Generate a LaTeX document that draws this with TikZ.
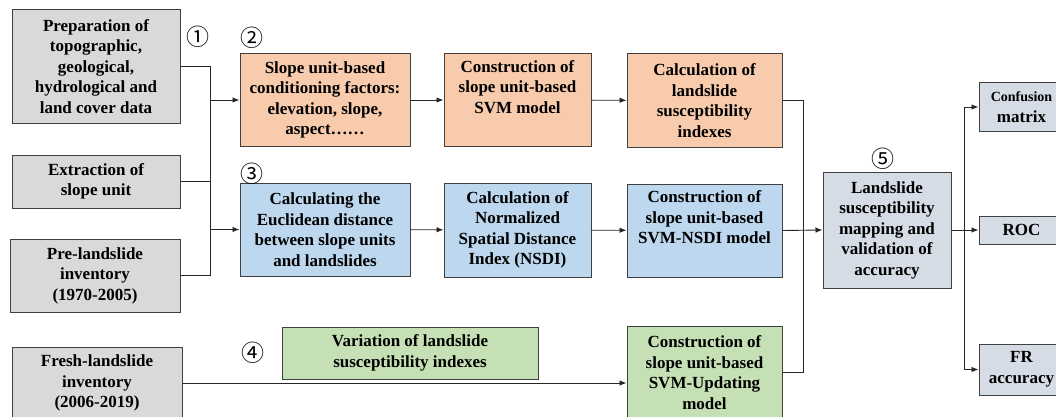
\documentclass[tikz,border=0pt]{standalone}
\usepackage{fontspec}
\setmainfont{LiberationSerif}[Extension=.ttf, UprightFont=*-Regular, BoldFont=*-Bold, ItalicFont=*-Italic, BoldItalicFont=*-BoldItalic]
\newfontfamily\circfont{Noto Sans CJK SC}
\usetikzlibrary{arrows.meta}
\definecolor{bxgray}{HTML}{D9D9D9}
\definecolor{bxorange}{HTML}{F8CBAD}
\definecolor{bxblue}{HTML}{BDD7EE}
\definecolor{bxgreen}{HTML}{C5E0B4}
\definecolor{bxslate}{HTML}{D6DCE5}
\definecolor{bxline}{HTML}{404040}
\tikzset{
  box/.style={draw=bxline, line width=1pt, inner sep=0pt, align=center,
    font=\fontsize{17}{20.5}\selectfont\bfseries},
  conn/.style={line width=0.9pt, draw=black!85},
  arr/.style={conn, -{Latex[length=7pt,width=5.5pt]}},
  num/.style={inner sep=0pt, text=black, font=\circfont\fontsize{23}{23}\selectfont}
}
\begin{document}
\begin{tikzpicture}[x=1pt,y=-1pt]
\useasboundingbox (0,0) rectangle (1056,417);
\fill[white] (0,0) rectangle (1056,417);
% left column
\node[box, fill=bxgray, minimum width=168pt, minimum height=113pt] (A1) at (96,66.5)
  {Preparation of\\topographic,\\geological,\\hydrological and\\land cover data};
\node[box, fill=bxgray, minimum width=168pt, minimum height=53pt] (A2) at (96,181.5)
  {Extraction of\\slope unit};
\node[box, fill=bxgray, minimum width=170pt, minimum height=73pt] (A3) at (95,275.5)
  {Pre-landslide\\inventory\\(1970-2005)};
\node[box, fill=bxgray, minimum width=170pt, minimum height=72pt] (A4) at (97,383)
  {Fresh-landslide\\inventory\\(2006-2019)};
% row 2
\node[box, fill=bxorange, minimum width=170pt, minimum height=92pt] (B1) at (325,100)
  {Slope unit-based\\conditioning factors:\\elevation, slope,\\aspect……};
\node[box, fill=bxorange, minimum width=147pt, minimum height=92pt] (B2) at (517.5,100)
  {Construction of\\slope unit-based\\SVM model\\\strut};
\node[box, fill=bxorange, minimum width=155pt, minimum height=93pt] (B3) at (704.5,100.5)
  {Calculation of\\landslide\\susceptibility\\indexes};
% row 3
\node[box, fill=bxblue, minimum width=170pt, minimum height=93pt] (C1) at (325,229.5)
  {Calculating the\\Euclidean distance\\between slope units\\and landslides};
\node[box, fill=bxblue, minimum width=147pt, minimum height=94pt] (C2) at (517.5,230)
  {Calculation of\\Normalized\\Spatial Distance\\Index (NSDI)};
\node[box, fill=bxblue, minimum width=155pt, minimum height=93pt] (C3) at (704.5,230.5)
  {Construction of\\slope unit-based\\SVM-NSDI model\\\strut};
% row 4
\node[box, fill=bxgreen, minimum width=256pt, minimum height=52pt] (D1) at (410,353)
  {Variation of landslide\\susceptibility indexes};
\node[box, fill=bxgreen, minimum width=155pt, minimum height=93pt] (D2) at (704.5,372.5)
  {Construction of\\slope unit-based\\SVM-Updating\\model};
% validation
\node[box, fill=bxslate, minimum width=128pt, minimum height=116pt] (E) at (887,230)
  {Landslide\\susceptibility\\mapping and\\validation of\\accuracy};
\node[box, fill=bxslate, minimum width=85pt, minimum height=48pt] (F1) at (1021.5,107)
  {{\fontsize{14}{20.5}\selectfont Confusion}\\matrix};
\node[box, fill=bxslate, minimum width=85pt, minimum height=28pt] (F2) at (1021.5,230)
  {ROC};
\node[box, fill=bxslate, minimum width=85pt, minimum height=51pt] (F3) at (1021.5,369.5)
  {FR\\accuracy};
% circled numbers
\node[num] (n1) at (198,37) {①};
\node[num] (n2) at (252,38) {②};
\node[num] (n3) at (252,174) {③};
\node[num] (n4) at (253,353) {④};
\node[num] (n5) at (883,159) {⑤};
% buses
\coordinate (bus1) at (210,0);
\coordinate (bus2) at (803,0);
\coordinate (bus3) at (964,0);
\draw[conn] (A1.east) -- (A1.east -| bus1) -- (A3.east -| bus1) -- (A3.east);
\draw[conn] (A2.east) -- (A2.east -| bus1);
\draw[arr] (B1.west -| bus1) -- (B1.west);
\draw[arr] (C1.west -| bus1) -- (C1.west);
\draw[arr] (B1) -- (B2);
\draw[arr] (B2) -- (B3);
\draw[arr] (C1) -- (C2);
\draw[arr] (C2) -- (C3);
\draw[arr] (A4.east) -- (A4.east -| D2.west);
\draw[conn] (B3.east) -- (B3.east -| bus2) -- (D2.east -| bus2) -- (D2.east);
\draw[arr] (C3.east) -- (E.west);
\draw[conn] (E.east) -- (E.east -| bus3);
\draw[conn] (F1.west -| bus3) -- (F3.west -| bus3);
\draw[arr] (F1.west -| bus3) -- (F1.west);
\draw[arr] (F2.west -| bus3) -- (F2.west);
\draw[arr] (F3.west -| bus3) -- (F3.west);
\end{tikzpicture}
\end{document}
